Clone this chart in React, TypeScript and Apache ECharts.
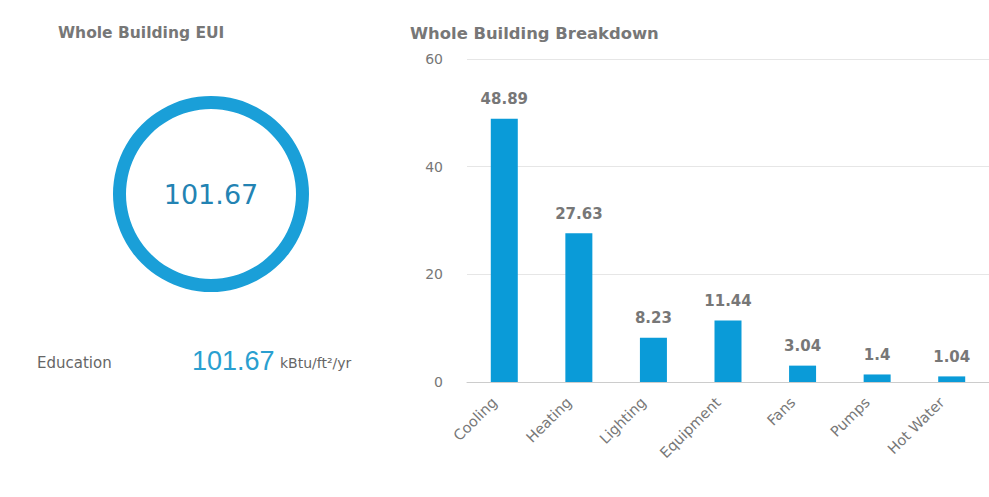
import React, { useEffect, useRef } from "react";
import * as echarts from "echarts";

const categories = ["Cooling", "Heating", "Lighting", "Equipment", "Fans", "Pumps", "Hot Water"];
const values = [48.89, 27.63, 8.23, 11.44, 3.04, 1.4, 1.04];
const yTicks = [0, 20, 40, 60];
const euiValue = 101.67;
const buildingType = "Education";
const euiUnit = "kBtu/ft²/yr";

const FONT = "DejaVu Sans, Verdana, sans-serif";

export default function App() {
  const ref = useRef<HTMLDivElement>(null);
  useEffect(() => {
    if (!ref.current) return;
    const chart = echarts.init(ref.current, null, { renderer: "svg" });
    chart.setOption({
      animation: false,
      backgroundColor: "#ffffff",
      textStyle: { fontFamily: FONT },
      title: [
        {
          text: "Whole Building EUI",
          left: 58,
          top: 25,
          padding: 0,
          textStyle: { fontFamily: FONT, fontSize: 15.5, fontWeight: "bold", color: "#777777" },
        },
        {
          text: "Whole Building Breakdown",
          left: 410,
          top: 25,
          padding: 0,
          textStyle: { fontFamily: FONT, fontSize: 16.4, fontWeight: "bold", color: "#777777" },
        },
      ],
      grid: { left: 467, right: 0, top: 59, bottom: 115, containLabel: false },
      xAxis: {
        type: "category",
        data: categories,
        axisLine: { show: true, lineStyle: { color: "#cccccc" } },
        axisTick: { show: false },
        axisLabel: {
          rotate: 45,
          interval: 0,
          margin: 8,
          padding: [0, 14, 0, 0],
          fontFamily: FONT,
          fontSize: 14.5,
          color: "#777777",
        },
      },
      yAxis: {
        type: "value",
        min: yTicks[0],
        max: yTicks[yTicks.length - 1],
        interval: 20,
        axisLine: { show: false },
        axisTick: { show: false },
        axisLabel: { fontFamily: FONT, fontSize: 14, color: "#777777", margin: 24 },
        splitLine: { lineStyle: { color: "#e6e6e6" } },
      },
      series: [
        {
          type: "bar",
          data: values,
          barWidth: 27,
          itemStyle: { color: "#0a9bd8" },
          label: {
            show: true,
            position: "top",
            distance: 12,
            fontFamily: FONT,
            fontSize: 15,
            fontWeight: "bold",
            color: "#777777",
          },
        },
        {
          type: "pie",
          center: [211, 194],
          radius: [85, 98],
          silent: true,
          startAngle: 90,
          data: [{ value: euiValue, name: "EUI" }],
          itemStyle: { color: "#1a9fd8" },
          label: {
            show: true,
            position: "center",
            formatter: () => euiValue.toFixed(2),
            fontFamily: FONT,
            fontSize: 27,
            color: "#2383b3",
          },
          labelLine: { show: false },
        },
      ],
      graphic: [
        {
          type: "text",
          left: 37,
          top: 355,
          style: { text: buildingType, fontFamily: FONT, fontSize: 15, fill: "#666666" },
        },
        {
          type: "text",
          left: 192,
          top: 347,
          style: { text: euiValue.toFixed(2), fontFamily: "Liberation Sans, Arial, sans-serif", fontSize: 27, fill: "#2a9fd0" },
        },
        {
          type: "text",
          left: 280,
          top: 356,
          style: { text: euiUnit, fontFamily: FONT, fontSize: 14, fill: "#666666" },
        },
      ],
    });
    return () => chart.dispose();
  }, []);
  return <div ref={ref} style={{ width: 989, height: 497, position: "absolute", left: 0, top: 0 }} />;
}
